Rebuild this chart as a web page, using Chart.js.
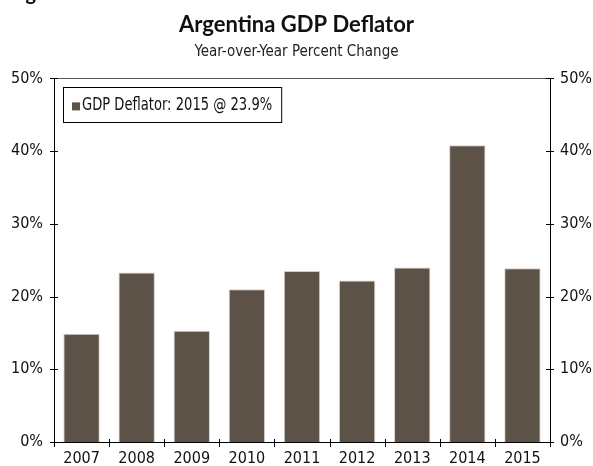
<!DOCTYPE html>
<html>
<head>
<meta charset="utf-8">
<script src="https://cdn.jsdelivr.net/npm/chart.js@4.4.1/dist/chart.umd.min.js"></script>
<style>
  body { margin: 0; background: #fff; }
  #wrap { position: relative; width: 593px; height: 466px; overflow: hidden; }
  #fig { position: absolute; left: 9px; top: -18px; font: bold 20px Lato, sans-serif; line-height: 20px; color: #111; }
</style>
</head>
<body>
<div id="wrap">
  <div id="fig">Figure 3</div>
  <canvas id="deflatorChart" width="593" height="466"></canvas>
</div>
<script>
const years = ["2007", "2008", "2009", "2010", "2011", "2012", "2013", "2014", "2015"];
const deflator = [14.9, 23.3, 15.3, 21.0, 23.5, 22.2, 24.0, 40.8, 23.9];
const yTicks = [0, 10, 20, 30, 40, 50];
const seriesLabel = "GDP Deflator: 2015 @ 23.9%";

const barColor = "#5d5247";
const narrow = "'DejaVu Sans Condensed', 'Liberation Sans Narrow', sans-serif";

// ticks that cross the axes, the top rule and the boxed legend
const framePlugin = {
  id: "frame",
  afterDraw(chart) {
    const ctx = chart.ctx;
    const area = chart.chartArea;
    const x = chart.scales.x;
    const yl = chart.scales.y;
    const yr = chart.scales.y2;
    ctx.save();
    ctx.lineWidth = 1;

    // top rule
    ctx.strokeStyle = "#555";
    ctx.beginPath();
    ctx.moveTo(area.left, Math.round(area.top) + 0.5);
    ctx.lineTo(area.right, Math.round(area.top) + 0.5);
    ctx.stroke();

    ctx.strokeStyle = "#000";
    ctx.beginPath();
    yTicks.forEach(v => {
      const py = Math.round(yl.getPixelForValue(v)) + 0.5;
      ctx.moveTo(area.left - 4, py); ctx.lineTo(area.left + 4, py);
      const pr = Math.round(yr.getPixelForValue(v)) + 0.5;
      ctx.moveTo(area.right - 4, pr); ctx.lineTo(area.right + 4, pr);
    });
    const step = x.getPixelForValue(1) - x.getPixelForValue(0);
    for (let i = 0; i <= years.length; i++) {
      const px = Math.round(x.getPixelForValue(i) - step / 2) + 0.5;
      ctx.moveTo(px, area.bottom - 3); ctx.lineTo(px, area.bottom + 5);
    }
    ctx.stroke();

    // legend, text squeezed to a condensed look
    const squeeze = 0.81;
    ctx.font = "18px " + narrow;
    const tw = ctx.measureText(seriesLabel).width * squeeze;
    const bx = area.left + 9, by = area.top + 9;
    const bw = tw + 28, bh = 35;
    ctx.fillStyle = "#fff";
    ctx.fillRect(bx, by, bw, bh);
    ctx.strokeStyle = "#000";
    ctx.strokeRect(Math.round(bx) + 0.5, Math.round(by) + 0.5, bw, bh);
    ctx.fillStyle = barColor;
    ctx.fillRect(bx + 9, by + 15, 8, 8);
    ctx.fillStyle = "#111";
    ctx.textBaseline = "middle";
    ctx.translate(bx + 19, by + 18);
    ctx.scale(squeeze, 1);
    ctx.fillText(seriesLabel, 0, 0);
    ctx.restore();
  }
};

new Chart(document.getElementById("deflatorChart"), {
  type: "bar",
  data: {
    labels: years,
    datasets: [{
      label: seriesLabel,
      data: deflator,
      backgroundColor: barColor,
      borderColor: "#d4cdc5",
      borderWidth: 1,
      barPercentage: 0.66,
      categoryPercentage: 1.0
    }]
  },
  options: {
    responsive: false,
    animation: false,
    events: [],
    layout: { padding: 0 },
    plugins: {
      legend: { display: false },
      tooltip: { enabled: false },
      title: {
        display: true,
        text: "Argentina GDP Deflator",
        color: "#111",
        font: { family: "Lato, sans-serif", size: 22, weight: "bold" },
        padding: { top: 12, bottom: 0 }
      },
      subtitle: {
        display: true,
        text: "Year-over-Year Percent Change",
        color: "#222",
        font: { family: narrow, size: 15 },
        padding: { top: 5, bottom: 17 }
      }
    },
    scales: {
      x: {
        grid: { display: false, drawTicks: false },
        border: { display: true, color: "#000", width: 1 },
        ticks: { color: "#111", font: { family: narrow, size: 16 }, padding: 7, maxRotation: 0 },
        afterFit: s => { s.height = 24; }
      },
      y: {
        position: "left",
        min: 0, max: 50,
        grid: { display: false, drawTicks: false },
        border: { display: true, color: "#000", width: 1 },
        ticks: { stepSize: 10, color: "#111", font: { family: narrow, size: 16 }, padding: 11,
                 callback: v => v + "%" },
        afterFit: s => { s.width = 54; }
      },
      y2: {
        position: "right",
        min: 0, max: 50,
        grid: { display: false, drawTicks: false },
        border: { display: true, color: "#000", width: 1 },
        ticks: { stepSize: 10, color: "#111", font: { family: narrow, size: 16 }, padding: 10,
                 callback: v => v + "%" },
        afterFit: s => { s.width = 43; }
      }
    }
  },
  plugins: [framePlugin]
});
</script>
</body>
</html>
